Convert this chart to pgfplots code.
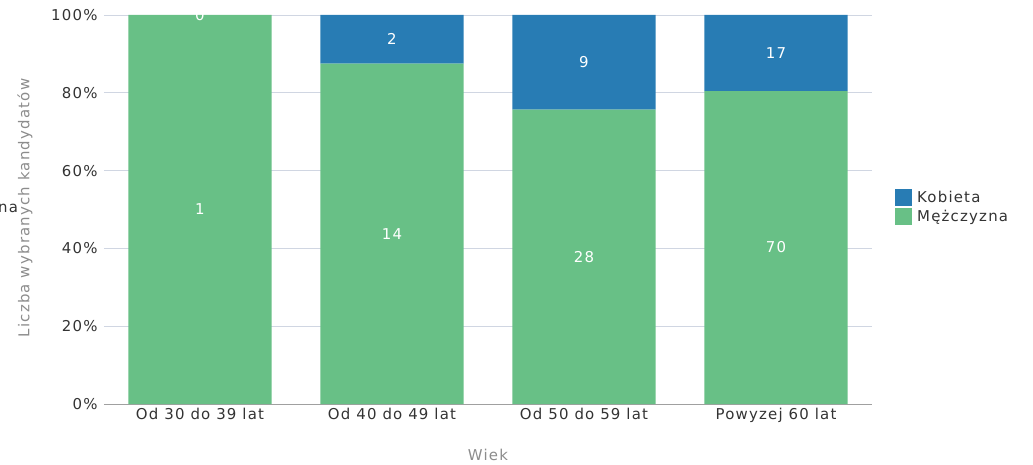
\documentclass[border=0pt]{standalone}
\usepackage{fontspec}
\setmainfont[LetterSpace=8]{DejaVu Sans}
\usepackage{pgfplots}
\usepackage{pgfplotstable}
\pgfplotsset{compat=1.18}

\definecolor{kob}{RGB}{40,124,180}
\definecolor{mez}{RGB}{104,192,134}
\definecolor{gridc}{RGB}{208,214,226}
\definecolor{axc}{RGB}{160,160,160}
\definecolor{txt}{RGB}{51,51,51}
\definecolor{ttl}{RGB}{140,140,140}

% x, counts (m = Mężczyzna, k = Kobieta), shares in %, label heights
\pgfplotstableread{
x m  k  mp     kp     mmid   kmid
0 1  0  100    0      50     100
1 14 2  87.5   12.5   43.75  93.75
2 28 9  75.68  24.32  37.84  87.84
3 70 17 80.46  19.54  40.23  90.23
}\data

\newcommand{\cf}{\fontsize{15}{17}\selectfont}

\begin{document}
\begin{tikzpicture}
\begin{axis}[
    scale only axis,
    width=768bp, height=389bp,
    ybar stacked,
    bar width=0.745,
    xmin=-0.5, xmax=3.5,
    ymin=0, ymax=100,
    xtick={0,1,2,3},
    xticklabels={Od 30 do 39 lat, Od 40 do 49 lat, Od 50 do 59 lat, Powyzej 60 lat},
    ytick={0,20,40,60,80,100},
    yticklabel={\pgfmathprintnumber{\tick}\%},
    /pgf/number format/assume math mode=true,
    major tick length=0pt,
    ymajorgrids,
    grid style={gridc, line width=0.8pt},
    axis x line*=bottom,
    axis y line*=left,
    y axis line style={draw=none},
    x axis line style={axc, line width=1pt, -},
    tick label style={font=\cf, text=txt},
    yticklabel style={xshift=-3bp},
    xticklabel style={yshift=-1bp},
    legend style={draw=none, fill=none, font=\cf, text=txt,
        at={(axis description cs:1.030,0.553)}, anchor=north west,
        row sep=2bp, inner sep=0pt, cells={anchor=west}},
    legend image code/.code={\fill (0bp,-8.5bp) rectangle (17bp,8.5bp); \path (20bp,0bp);},
    reverse legend,
    clip=false,
]
\addplot[fill=mez, draw=none] table[x=x, y=mp] {\data};
\addlegendentry{Mężczyzna}
\addplot[fill=kob, draw=none] table[x=x, y=kp] {\data};
\addlegendentry{Kobieta}
\end{axis}
\begin{axis}[
    scale only axis,
    width=768bp, height=389bp,
    xmin=-0.5, xmax=3.5, ymin=0, ymax=100,
    axis lines=none, clip=false,
]
\addplot[only marks, mark=none, point meta=explicit symbolic,
    nodes near coords, nodes near coords align=center,
    every node near coord/.style={anchor=center, text=white, font=\cf}]
    table[x=x, y=mmid, meta=m] {\data};
\addplot[only marks, mark=none, point meta=explicit symbolic,
    nodes near coords, nodes near coords align=center,
    every node near coord/.style={anchor=center, text=white, font=\cf}]
    table[x=x, y=kmid, meta=k] {\data};
\end{axis}
\node[rotate=90, text=ttl, font=\cf, inner sep=0pt] at (-79bp,196bp) {Liczba wybranych kandydatów};
\node[text=ttl, font=\cf, inner sep=0pt] at (384bp,-51bp) {Wiek};
\node[anchor=west, text=txt, font=\cf, inner sep=0pt] at (-106bp,196bp) {na};
\pgfresetboundingbox
\useasboundingbox (-104bp,-61bp) rectangle (929bp,404bp);
\end{tikzpicture}
\end{document}
